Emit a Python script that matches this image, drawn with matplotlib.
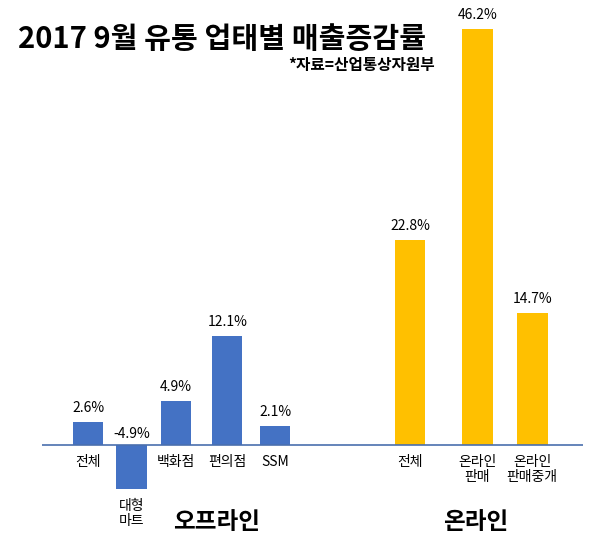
import matplotlib
matplotlib.use("Agg")
import matplotlib.pyplot as plt

plt.rcParams['font.family'] = ['Noto Sans CJK KR', 'DejaVu Sans']

# data
offline_labels = ['전체', '대형\n마트', '백화점', '편의점', 'SSM']
offline_values = [2.6, -4.9, 4.9, 12.1, 2.1]
online_labels = ['전체', '온라인\n판매', '온라인\n판매중개']
online_values = [22.8, 46.2, 14.7]

# layout (bar centres in axis units)
offline_x = [0, 0.93, 1.87, 2.96, 3.98]
online_x = [6.85, 8.28, 9.45]
bar_w = 0.65

BLUE = '#4472C4'
GOLD = '#FFC000'

fig = plt.figure(figsize=(5.93, 5.57), dpi=100)
ax = fig.add_axes([42 / 593, 0.1041, 541 / 593, 0.8438])
ax.set_xlim(-0.98, 10.53)
ax.set_ylim(-6, 46.2)
ax.axis('off')


def draw_group(xs, vals, labels, color):
    ax.bar(xs, vals, width=bar_w, color=color, zorder=2)
    for x, v, lab in zip(xs, vals, labels):
        if v >= 0:
            ax.annotate(f'{v}%', (x, v), xytext=(0, 5), textcoords='offset points',
                        ha='center', va='bottom', fontsize=10)
            ax.annotate(lab, (x, 0), xytext=(0, -7), textcoords='offset points',
                        ha='center', va='top', fontsize=10, linespacing=1.15)
        else:
            ax.annotate(f'{v}%', (x, 0), xytext=(0, 3), textcoords='offset points',
                        ha='center', va='bottom', fontsize=10)
            ax.annotate(lab, (x, v), xytext=(0, -7), textcoords='offset points',
                        ha='center', va='top', fontsize=10, linespacing=1.15)


draw_group(offline_x, offline_values, offline_labels, BLUE)
draw_group(online_x, online_values, online_labels, GOLD)
ax.axhline(0, color='#4a6fae', lw=1.2, zorder=3)

fig.text(18 / 593, 1 - 39 / 557, '2017 9월 유통 업태별 매출증감률',
         fontsize=21, fontweight='bold', ha='left', va='center')
fig.text(435 / 593, 1 - 65 / 557, '*자료=산업통상자원부',
         fontsize=11.3, fontweight='bold', ha='right', va='center')
fig.text(217 / 593, 1 - 522 / 557, '오프라인', fontsize=17, fontweight='bold',
         ha='center', va='center')
fig.text(476 / 593, 1 - 522 / 557, '온라인', fontsize=17, fontweight='bold',
         ha='center', va='center')

fig.savefig('out.png', dpi=100)
